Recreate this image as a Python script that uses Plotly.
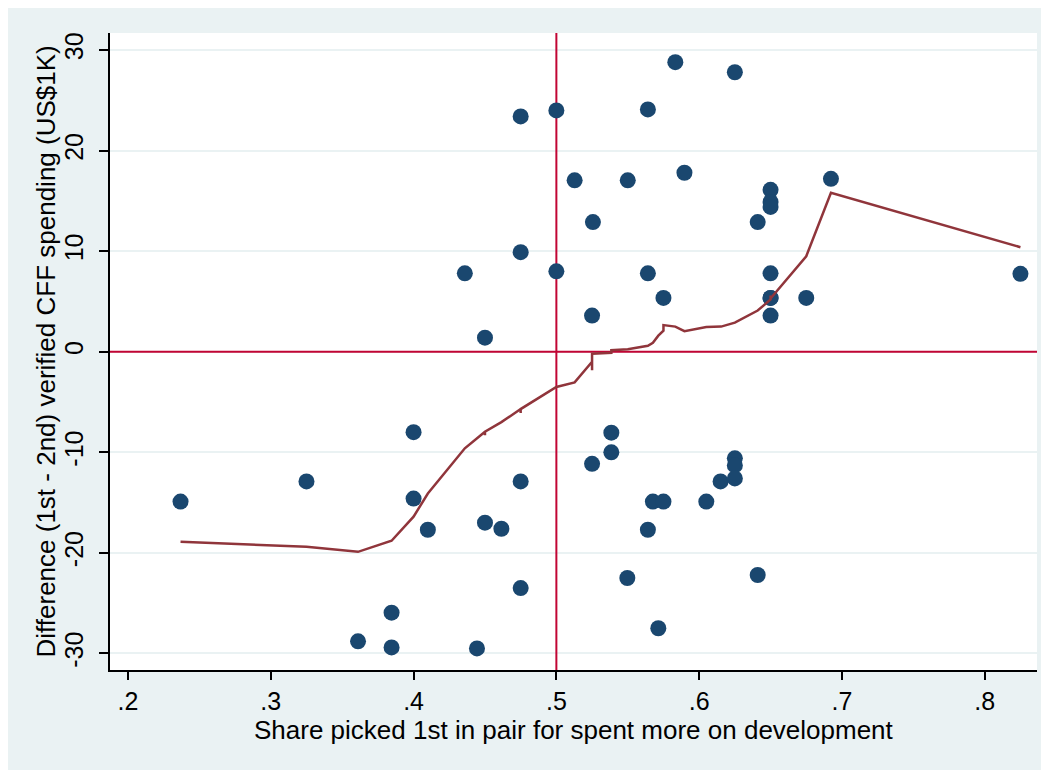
import plotly.graph_objects as go

# Scatter data: share picked 1st (x) vs difference in verified CFF spending (y, US$1K)
share_first = [
    0.2368, 0.325, 0.3611, 0.3846, 0.3846, 0.4, 0.4, 0.41, 0.4359, 0.4444,
    0.45, 0.45, 0.4615, 0.475, 0.475, 0.475, 0.475, 0.5, 0.5, 0.5128,
    0.525, 0.525, 0.5256, 0.5385, 0.5385, 0.5497, 0.55, 0.5641, 0.5641, 0.5641,
    0.5676, 0.5714, 0.575, 0.575, 0.5833, 0.5897, 0.605, 0.615, 0.625, 0.625,
    0.625, 0.625, 0.641, 0.641, 0.65, 0.65, 0.65, 0.65, 0.65, 0.65,
    0.65, 0.675, 0.6923, 0.825,
]
spend_diff = [
    -14.9, -12.9, -28.8, -25.95, -29.4, -8.0, -14.6, -17.7, 7.8, -29.5,
    -17.0, 1.4, -17.6, 23.4, 9.9, -12.9, -23.5, 24.0, 8.0, 17.05,
    3.6, -11.15, 12.9, -8.05, -10.0, -22.5, 17.05, 24.1, 7.8, -17.7,
    -14.9, -27.5, 5.35, -14.9, 28.8, 17.8, -14.9, -12.9, 27.8, -10.6,
    -11.3, -12.6, 12.9, -22.2, 16.1, 14.9, 14.4, 7.8, 5.35, 3.6,
    5.35, 5.35, 17.2, 7.75,
]

# Lowess smoother (fitted values, sorted by x; tied x give vertical jogs)
lowess_x = [
    0.2368, 0.325, 0.3611, 0.3846, 0.4, 0.41, 0.4359, 0.4444, 0.45, 0.45,
    0.45, 0.4615, 0.475, 0.475, 0.475, 0.5, 0.5128, 0.525, 0.525, 0.525,
    0.5385, 0.5385, 0.55, 0.5641, 0.5676, 0.5714, 0.575, 0.575, 0.5833, 0.5897,
    0.605, 0.6154, 0.625, 0.641, 0.65, 0.65, 0.65, 0.675, 0.6923, 0.825,
]
lowess_y = [
    -18.9, -19.4, -19.9, -18.8, -16.4, -14.1, -9.6, -8.6, -7.95, -8.3,
    -7.95, -7.0, -5.7, -6.1, -5.7, -3.5, -3.05, -1.0, -1.85, -0.2,
    -0.1, 0.15, 0.25, 0.6, 0.9, 1.6, 2.1, 2.65, 2.5, 2.05,
    2.45, 2.5, 2.9, 4.1, 5.2, 5.6, 5.3, 9.5, 15.8, 10.4,
]

x_ticks = [0.2, 0.3, 0.4, 0.5, 0.6, 0.7, 0.8]
x_tick_labels = [".2", ".3", ".4", ".5", ".6", ".7", ".8"]
y_ticks = [-30, -20, -10, 0, 10, 20, 30]
y_tick_labels = ["-30", "-20", "-10", "0", "10", "20", "30"]
x_range = [0.1874, 0.8366]
y_range = [-31.65, 31.7]
ref_x = 0.5
ref_y = 0

x_title = "Share picked 1st in pair for spent more on development"
y_title = "Difference (1st - 2nd) verified CFF spending (US$1K)"

NAVY = "#1a476f"
MAROON = "#90353b"
CRANBERRY = "#c10534"
BG = "#eaf2f3"
FONT = "Liberation Sans, Arial, sans-serif"

W, H = 1041, 762
ML, MR, MT, MB = 102, 12, 25, 100
PW, PH = W - ML - MR, H - MT - MB

fig = go.Figure()
# reference lines (drawn under the markers)
fig.add_trace(go.Scatter(
    x=[ref_x, ref_x], y=y_range, mode="lines",
    line=dict(color=CRANBERRY, width=2), showlegend=False, hoverinfo="skip",
))
fig.add_trace(go.Scatter(
    x=x_range, y=[ref_y, ref_y], mode="lines",
    line=dict(color=CRANBERRY, width=2), showlegend=False, hoverinfo="skip",
))
fig.add_trace(go.Scatter(
    x=share_first, y=spend_diff, mode="markers",
    marker=dict(color=NAVY, size=16, line=dict(width=0)),
    showlegend=False, hoverinfo="x+y",
))
fig.add_trace(go.Scatter(
    x=lowess_x, y=lowess_y, mode="lines",
    line=dict(color=MAROON, width=2.5),
    showlegend=False, hoverinfo="x+y",
))

fig.add_annotation(
    text=y_title, xref="paper", yref="paper",
    x=(37 - ML) / PW, y=0.5, xanchor="center", yanchor="middle",
    textangle=-90, showarrow=False,
    font=dict(size=26, family=FONT, color="black"),
)
fig.add_annotation(
    text=x_title, xref="paper", yref="paper",
    x=0.5, y=-60 / PH, xanchor="center", yanchor="middle",
    showarrow=False,
    font=dict(size=26, family=FONT, color="black"),
)

fig.update_layout(
    width=W, height=H,
    margin=dict(l=ML, r=MR, t=MT, b=MB),
    paper_bgcolor=BG, plot_bgcolor="white",
    font=dict(family=FONT, size=26, color="black"),
    xaxis=dict(
        range=x_range, tickmode="array", tickvals=x_ticks, ticktext=x_tick_labels,
        showgrid=False, zeroline=False, showline=True, linecolor="black", linewidth=1.5,
        ticks="outside", ticklen=8, tickwidth=1.5, tickcolor="black",
        ticklabelstandoff=0,
        tickfont=dict(size=25, family=FONT, color="black"),
    ),
    yaxis=dict(
        range=y_range, tickmode="array", tickvals=y_ticks, ticktext=y_tick_labels,
        showgrid=True, gridcolor=BG, gridwidth=2, zeroline=False,
        showline=True, linecolor="black", linewidth=1.5,
        ticks="outside", ticklen=9, tickwidth=1.5, tickcolor="black", tickangle=-90,
        ticklabelstandoff=6,
        tickfont=dict(size=25, family=FONT, color="black"),
    ),
)

fig.write_html("out.html")
